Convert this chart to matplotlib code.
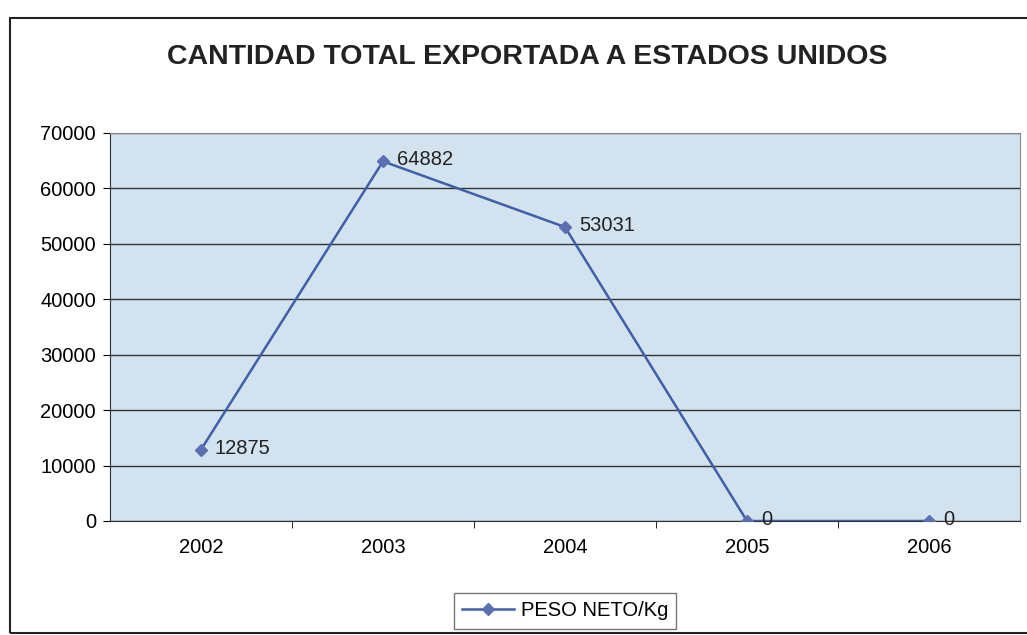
import matplotlib.pyplot as plt
from matplotlib.patches import Rectangle

plt.rcParams['font.family'] = ['Liberation Sans', 'DejaVu Sans']

years = ['2002', '2003', '2004', '2005', '2006']
peso_neto = [12875, 64882, 53031, 0, 0]

fig = plt.figure(figsize=(10.27, 6.35), dpi=100)
ax = fig.add_axes([110 / 1027, 1 - 521 / 635, 910 / 1027, 388 / 635])

x = range(len(years))
ax.plot(x, peso_neto, color='#3f5fa8', lw=1.8, marker='D', ms=6,
        mfc='#5b6fb2', mec='#5b6fb2', label='PESO NETO/Kg', zorder=3)
for xi, v in zip(x, peso_neto):
    ax.annotate(str(v), (xi, v), xytext=(10, 1), textcoords='offset points',
                va='center', ha='left', fontsize=14.5, color='#222222')

ax.set_facecolor('#d3e2ef')
ax.set_xlim(-0.5, len(years) - 0.5)
ax.set_ylim(0, 70000)
ax.set_yticks(range(0, 70001, 10000))
ax.grid(axis='y', color='#333333', lw=1)
ax.set_axisbelow(True)
ax.set_xticks(x)
ax.set_xticklabels(years)
ax.set_xticks([i + 0.5 for i in range(len(years) - 1)], minor=True)
ax.tick_params(axis='x', which='major', length=0, pad=12, labelsize=14.5)
ax.tick_params(axis='x', which='minor', length=5, direction='out')
ax.tick_params(axis='y', length=5, labelsize=14.5, pad=5)
for side in ['top', 'right']:
    ax.spines[side].set_color('#888888')
for side in ['left', 'bottom']:
    ax.spines[side].set_color('#333333')

fig.text(527 / 1027, 1 - 57 / 635, 'CANTIDAD TOTAL EXPORTADA A ESTADOS UNIDOS',
         ha='center', va='center', fontsize=20.5, fontweight='bold', color='#222222')

leg = fig.legend(loc='center', bbox_to_anchor=(565 / 1027, 1 - 611 / 635),
                 fontsize=14.5, frameon=True, fancybox=False, handlelength=2.6,
                 handletextpad=0.3, borderpad=0.4, borderaxespad=0)
leg.get_frame().set_edgecolor('#555555')
leg.get_frame().set_linewidth(1)

# outer chart frame
fig.patches.append(Rectangle((10 / 1027, 2 / 635), 1.1, 615 / 635,
                             transform=fig.transFigure, fill=False,
                             ec='#222222', lw=1.5))

fig.savefig('out.png', dpi=100)
